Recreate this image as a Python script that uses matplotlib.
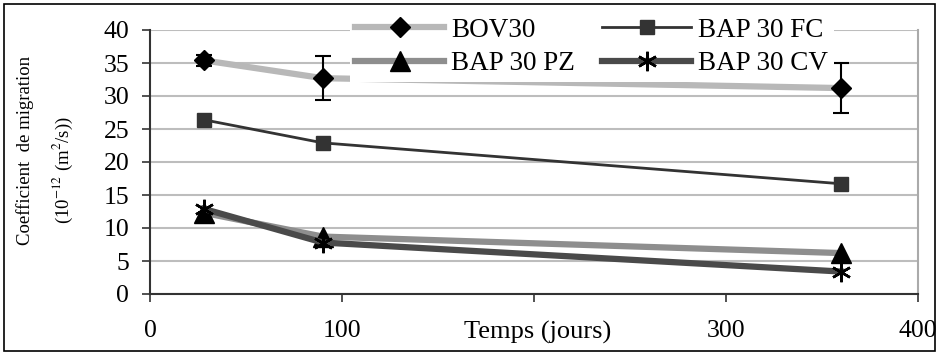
import numpy as np
import matplotlib
matplotlib.use('Agg')
import matplotlib.pyplot as plt
from matplotlib.patches import Rectangle
from matplotlib.lines import Line2D

plt.rcParams['font.family'] = ['Liberation Serif', 'DejaVu Serif']
plt.rcParams['mathtext.fontset'] = 'stix'

# donnees
jours = [28, 90, 360]
bov30 = [35.4, 32.7, 31.2]
bov30_err = [0.8, 3.3, 3.85]
bap30_fc = [26.4, 22.9, 16.7]
bap30_pz = [12.3, 8.7, 6.2]
bap30_cv = [12.9, 7.8, 3.4]

x_ticks = [0, 100, 200, 300, 400]
x_ticklabels = ['0', '100', '', '300', '400']
y_ticks = np.arange(0, 41, 5)

# styles : couleur, epaisseur, marqueur, taille, couleur marqueur
styles = {
    'BOV30':     ('#b8b8b8', 4.5, 'D', 10, 'black'),
    'BAP 30 PZ': ('#8e8e8e', 4.5, '^', 14, 'black'),
    'BAP 30 FC': ('#333333', 2.0, 's', 10.5, '#333333'),
    'BAP 30 CV': ('#4a4a4a', 4.5, (6, 2, 0), 14, 'black'),
}
series = {'BOV30': bov30, 'BAP 30 PZ': bap30_pz, 'BAP 30 FC': bap30_fc, 'BAP 30 CV': bap30_cv}

fig = plt.figure(figsize=(9.4, 3.54), dpi=100)
ax = fig.add_axes([150/940, 1-294/354, 768/940, 264/354])

handles = []
for name, vals in series.items():
    c, lw, m, ms, mc = styles[name]
    kw = dict(color=c, linewidth=lw, marker=m, markersize=ms,
              markerfacecolor=mc, markeredgecolor=mc, zorder=3)
    if name == 'BAP 30 CV':
        kw.update(markeredgewidth=1.8, zorder=4)
    ax.plot(jours, vals, **kw)
    handles.append(Line2D([], [], label=name, **kw))

ax.errorbar(jours, bov30, yerr=bov30_err, fmt='none', ecolor='black',
            elinewidth=1.5, capsize=5.5, capthick=1.5, zorder=2)

ax.set_xlim(0, 400)
ax.set_ylim(0, 40)
ax.set_xticks(x_ticks)
ax.set_xticklabels(x_ticklabels)
ax.set_yticks(y_ticks)
ax.tick_params(axis='both', labelsize=18.5, direction='out', length=6, width=1.2, color='#333333')
ax.tick_params(axis='y', pad=9)
ax.tick_params(axis='x', pad=13)
ax.grid(True, axis='y', color='#bdbdbd', linewidth=1.5)
ax.set_axisbelow(True)

for s in ['left', 'bottom']:
    ax.spines[s].set_color('#333333')
    ax.spines[s].set_linewidth(1.5)
ax.spines['top'].set_visible(False)
ax.spines['right'].set_color('#aaaaaa')
ax.spines['right'].set_linewidth(1.5)

ax.set_xlabel('Temps (jours)', fontsize=19)
ax.xaxis.set_label_coords(0.505, -0.145)
ax.xaxis.label.set_va('center')

fig.text(25/940, 1-150/354, 'Coefficient  de migration', rotation=90,
         ha='center', va='center', fontsize=13.5)
fig.text(63/940, 1-170/354, '(10$^{-12}$ (m$^{2}$/s))', rotation=90,
         ha='center', va='center', fontsize=13.5)

leg = ax.legend(handles=handles, loc='upper left', bbox_to_anchor=(336/940, 1+1/354),
                bbox_transform=fig.transFigure, ncol=2, fontsize=19.5,
                frameon=True, fancybox=False, facecolor='white', edgecolor='none',
                framealpha=1, borderpad=0.2, handlelength=3.3, handletextpad=0.25,
                columnspacing=1.0, labelspacing=0.3, numpoints=1)

fig.patches.append(Rectangle((4/940, 3/354), 931/940, 347/354, transform=fig.transFigure,
                             fill=False, edgecolor='black', linewidth=1.2))

fig.savefig('out.png', dpi=100)
